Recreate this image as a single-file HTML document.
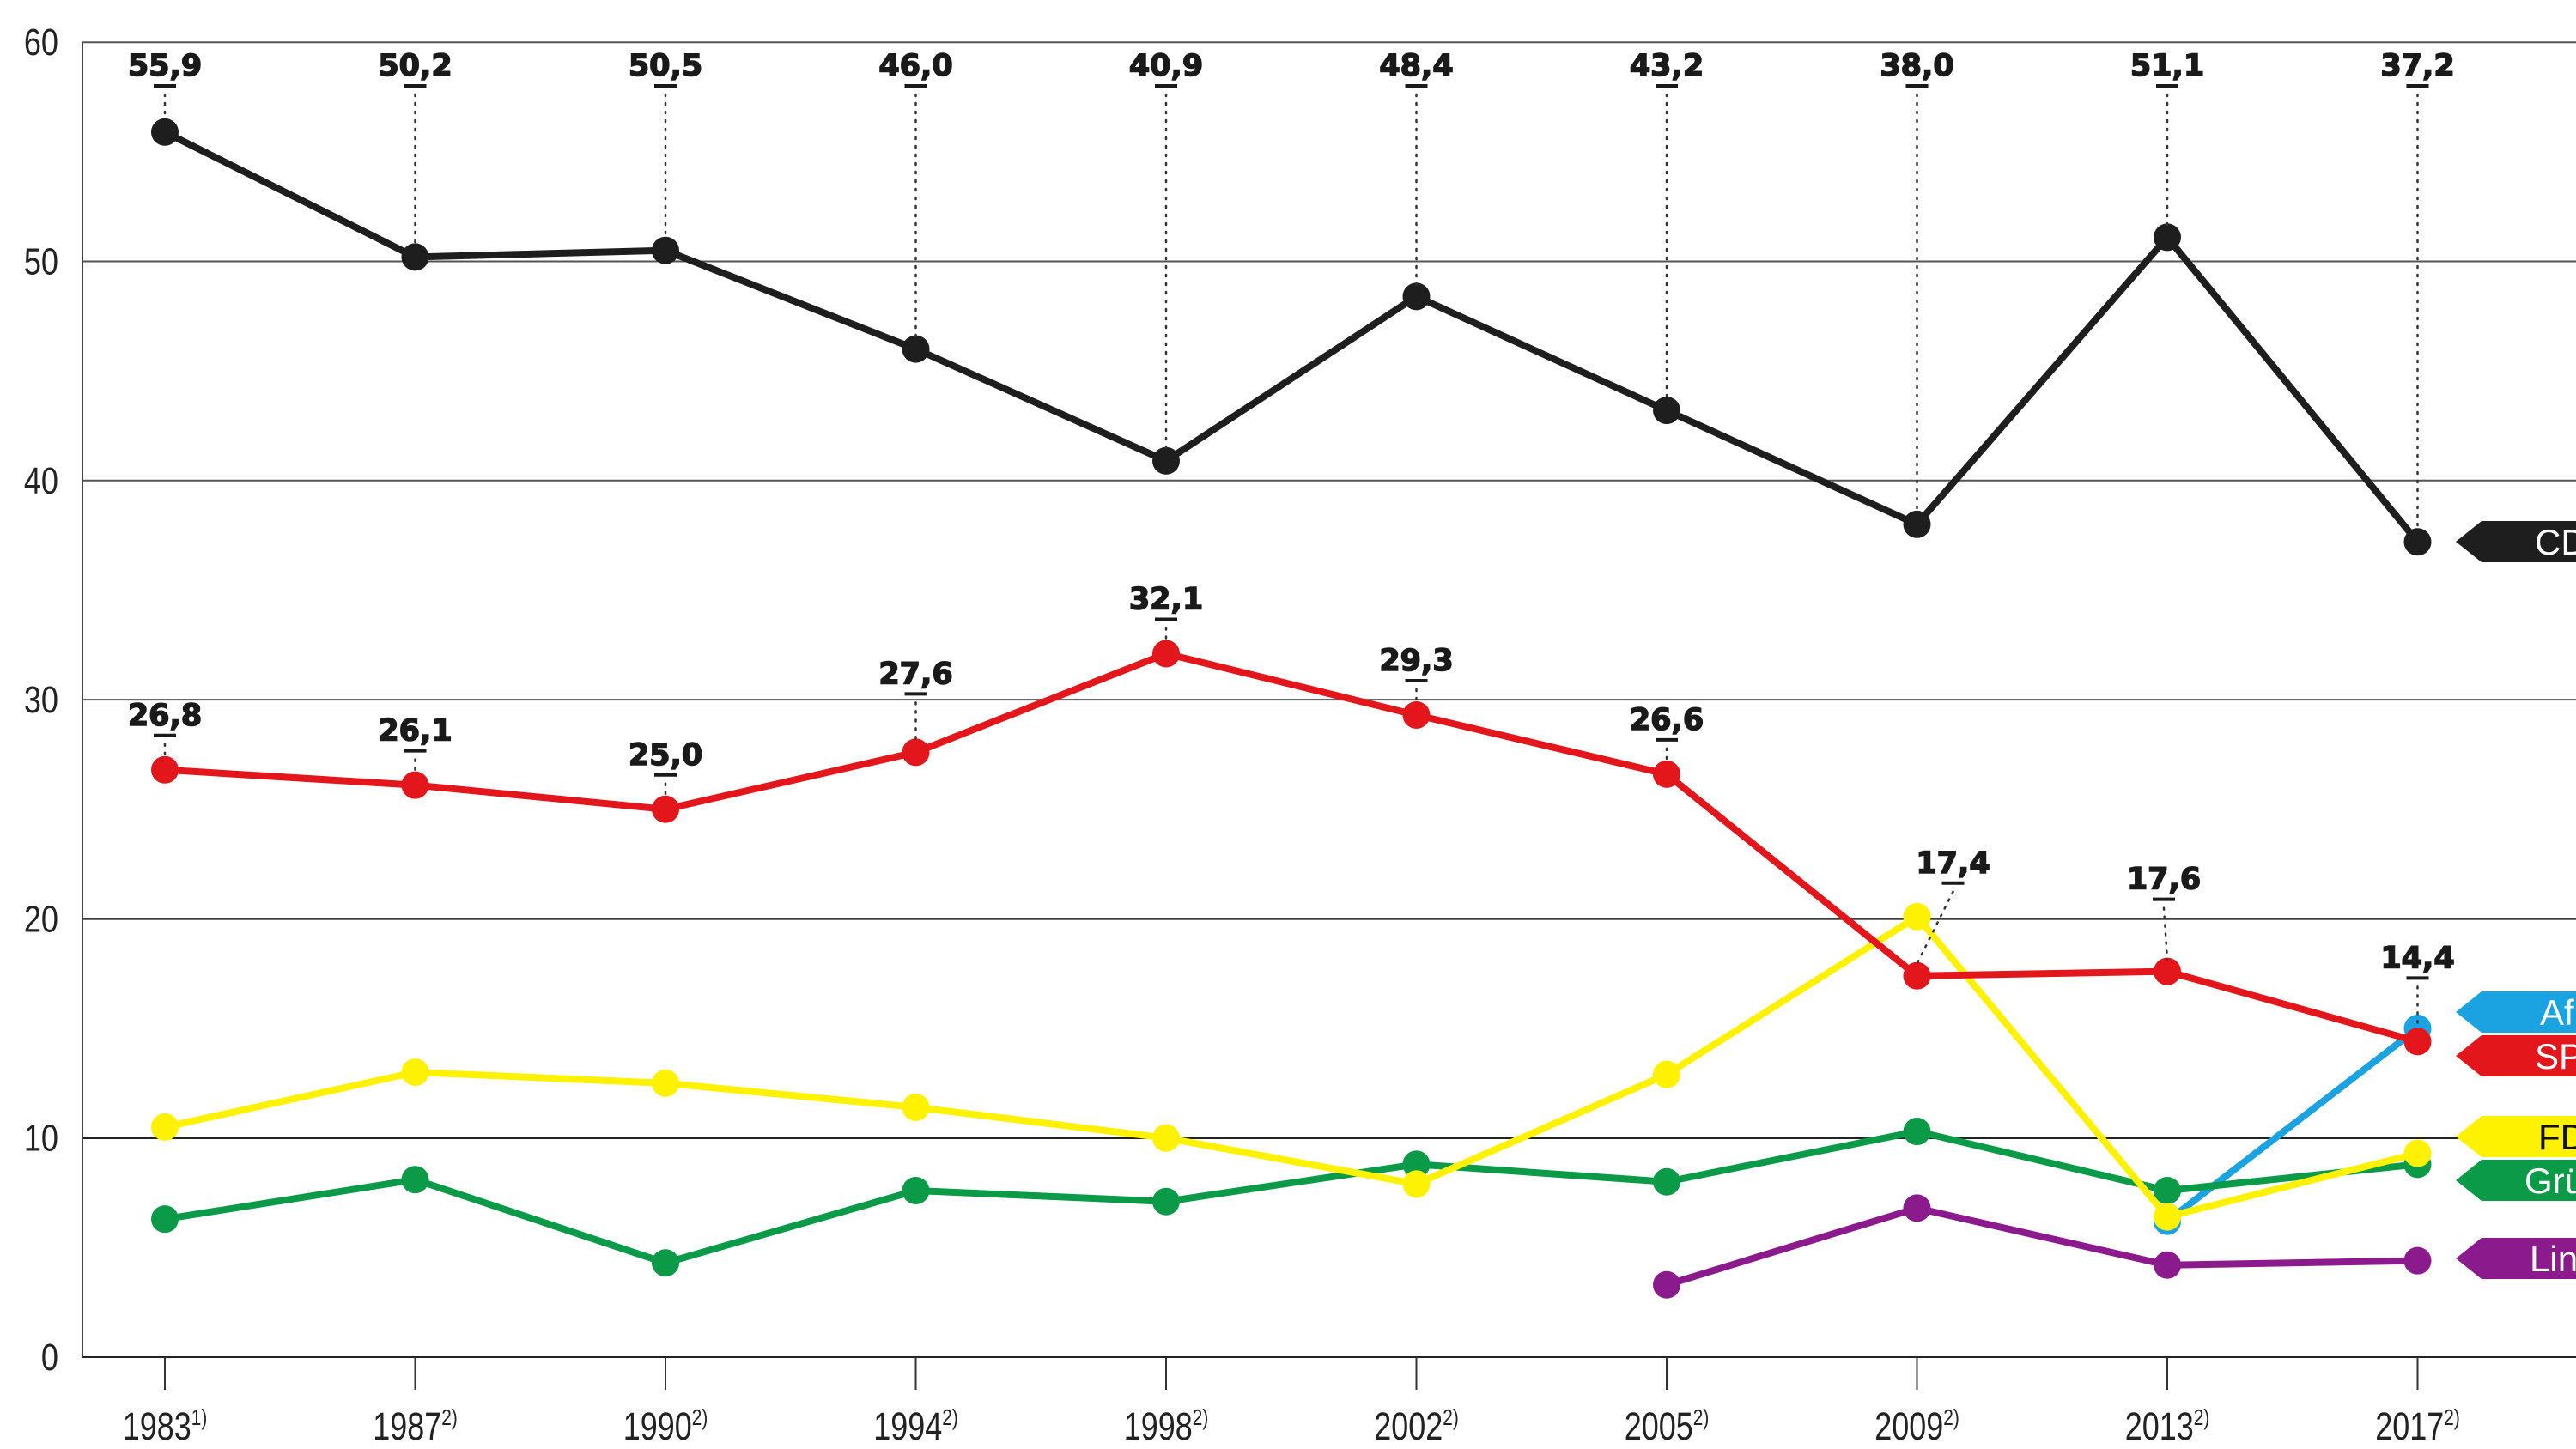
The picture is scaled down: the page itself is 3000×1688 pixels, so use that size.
<!DOCTYPE html>
<html><head><meta charset="utf-8"><style>
html,body{margin:0;padding:0;background:#fff;width:3000px;height:1688px;overflow:hidden}
svg{display:block}
</style></head><body>
<svg id="chart" width="3000" height="1688" viewBox="0 0 3000 1688" xmlns="http://www.w3.org/2000/svg"></svg>
<script>
const years = ["1983","1987","1990","1994","1998","2002","2005","2009","2013","2017"];
const yearNotes = ["1)","2)","2)","2)","2)","2)","2)","2)","2)","2)"];
const yTicks = [0,10,20,30,40,50,60];
const cdu = [55.9,50.2,50.5,46.0,40.9,48.4,43.2,38.0,51.1,37.2];
const spd = [26.8,26.1,25.0,27.6,32.1,29.3,26.6,17.4,17.6,14.4];
const fdp = [10.5,13.0,12.5,11.4,10.0,7.9,12.9,20.1,6.4,9.3];
const gruene = [6.3,8.1,4.3,7.6,7.1,8.8,8.0,10.3,7.6,8.8];
const linke = [null,null,null,null,null,null,3.3,6.8,4.2,4.4];
const afd = [null,null,null,null,null,null,null,null,6.2,15.0];
const legendNames = ["CDU","AfD","SPD","FDP","Grüne","Linke"];

const NS="http://www.w3.org/2000/svg";
const svg=document.getElementById('chart');
const X0=192, DX=291.5, Y0=1581, PX=25.53, AXL=96;
const x=i=>X0+DX*i;
const y=v=>Y0-v*PX;
function el(tag,attrs,parent){const e=document.createElementNS(NS,tag);for(const k in attrs)e.setAttribute(k,attrs[k]);(parent||svg).appendChild(e);return e;}

yTicks.forEach(t=>{
  const g=el('line',{x1:AXL,x2:3000,y1:y(t),y2:y(t),stroke:(t===10||t===20||t===0)?'#222':'#555','stroke-width':(t===10||t===20)?2.5:2});
  
  
  const tx=el('text',{x:68,y:y(t)+15,'text-anchor':'end','font-family':'Liberation Sans, sans-serif','font-size':44,fill:'#222'});
  tx.setAttribute('transform',`translate(${68-68*0.82},0) scale(0.82,1)`);
  tx.textContent=t;
  
  
});
const ax=el('line',{x1:AXL,x2:AXL,y1:y(60),y2:Y0,stroke:'#444','stroke-width':2});



years.forEach((yr,i)=>{
  const tk=el('line',{x1:x(i),x2:x(i),y1:Y0,y2:Y0+38,stroke:'#333','stroke-width':2});
  
  
  const t=el('text',{'font-family':'Liberation Sans, sans-serif','font-size':45,fill:'#222','text-anchor':'middle',transform:`translate(${x(i)},${1677}) scale(0.8,1)`});
  t.innerHTML=yr+'<tspan font-size="26" dy="-17">'+yearNotes[i]+'</tspan>';
  
  
});

function series(name,vals,color){
  const g=el('g',{});
  
  
  let pts=[];vals.forEach((v,i)=>{if(v!==null)pts.push([x(i),y(v)]);});
  const p=el('polyline',{points:pts.map(q=>q.join(',')).join(' '),fill:'none',stroke:color,'stroke-width':8,'stroke-linejoin':'round'},g);
  
  
  vals.forEach((v,i)=>{if(v===null)return;
    const c=el('circle',{cx:x(i),cy:y(v),r:16,fill:color},g);
    
    
  });
}
function fmt(v){return v.toFixed(1).replace('.',',');}
function label(name,i,v,lx,ly){
  const t=el('text',{x:lx,y:ly,'text-anchor':'middle','font-family':'DejaVu Sans, sans-serif','font-weight':'bold','font-size':35,fill:'#1a1a1a',stroke:'#1a1a1a','stroke-width':1.5});
  t.textContent=fmt(v);
  
  
  const u=el('line',{x1:lx-13,x2:lx+13,y1:ly+12,y2:ly+12,stroke:'#1a1a1a','stroke-width':4});
  
  
  const d=el('line',{x1:lx,y1:ly+22,x2:x(i),y2:y(v)-14,stroke:'#333','stroke-width':2.5,'stroke-dasharray':'2 8','stroke-linecap':'round'});
  
  
}

series('afd',afd,'#1aa3e0');
series('linke',linke,'#8b1a8c');
series('gruene',gruene,'#0a9a48');
series('fdp',fdp,'#fff200');
series('spd',spd,'#e2161b');
series('cdu',cdu,'#1e1e1e');

cdu.forEach((v,i)=>label('cdu',i,v,x(i),88));
const spdLift=[52,52,52,80,52,52,52,120,96,86];
const spdShift=[0,0,0,0,0,0,0,42,-4,0];
spd.forEach((v,i)=>label('spd',i,v,x(i)+spdShift[i],y(v)-spdLift[i]));

const legendColors=['#1e1e1e','#1aa3e0','#e2161b','#fff200','#0a9a48','#8b1a8c'];
const legendText=['#fff','#fff','#fff','#111','#fff','#fff'];
const legendY=[631,1179,1230,1324,1375,1466];
const legendX=[2952,2958,2952,2956,2940,2946];
legendNames.forEach((n,k)=>{
  const g=el('g',{});
  
  
  const cy=legendY[k];
  el('polygon',{points:`2860,${cy} 2890,${cy-24} 3000,${cy-24} 3000,${cy+24} 2890,${cy+24}`,fill:legendColors[k]},g);
  const t=el('text',{x:legendX[k],y:cy+15,'font-family':'Liberation Sans, sans-serif','font-size':42,fill:legendText[k]},g);
  t.textContent=n;
});
</script>
</body></html>
